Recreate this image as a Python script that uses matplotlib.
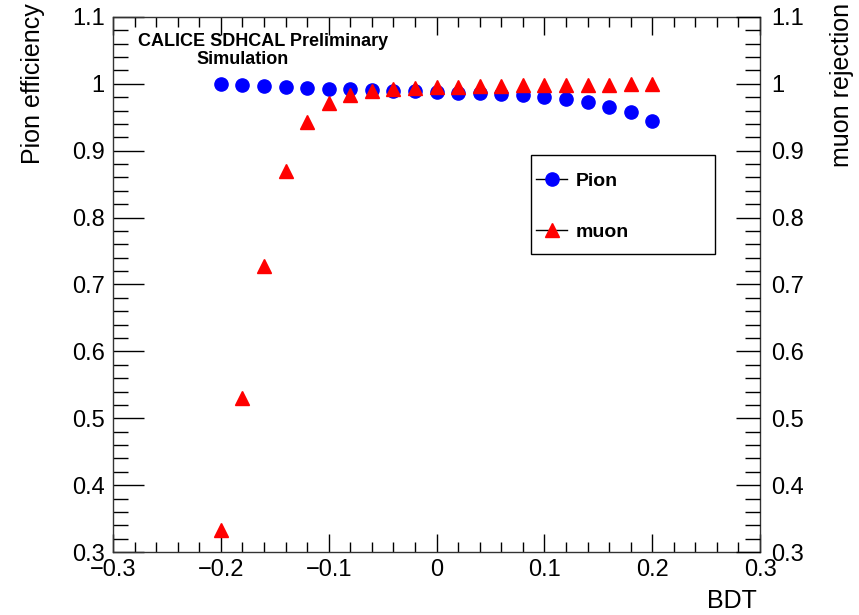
import matplotlib
matplotlib.use('Agg')
import matplotlib.pyplot as plt
import numpy as np
from matplotlib.ticker import MultipleLocator
from matplotlib.patches import Rectangle

plt.rcParams['font.family'] = ['Liberation Sans', 'DejaVu Sans']

# BDT cut values and resulting efficiencies
bdt_cut = [-0.20, -0.18, -0.16, -0.14, -0.12, -0.10, -0.08, -0.06, -0.04, -0.02, 0.00,
           0.02, 0.04, 0.06, 0.08, 0.10, 0.12, 0.14, 0.16, 0.18, 0.20]
pion_eff = [1.000, 0.999, 0.997, 0.996, 0.994, 0.993, 0.992, 0.991, 0.990, 0.989, 0.988,
            0.987, 0.986, 0.985, 0.983, 0.981, 0.978, 0.973, 0.966, 0.958, 0.945]
muon_rej = [0.333, 0.531, 0.728, 0.870, 0.943, 0.972, 0.984, 0.989, 0.992, 0.994, 0.995,
            0.996, 0.997, 0.997, 0.998, 0.998, 0.999, 0.999, 0.999, 0.9995, 1.000]

fig = plt.figure(figsize=(8.59, 6.15), dpi=100)
ax = fig.add_axes([0.1316, 0.1024, 0.7532, 0.8700])

ax.plot(bdt_cut, pion_eff, 'o', color='#0000ff', markersize=9.5, label='Pion', zorder=3)
ax.plot(bdt_cut, muon_rej, '^', color='#ff0000', markersize=10, label='muon', zorder=4)

fmt = lambda v, p: '{0:g}'.format(round(v, 2)).replace('-', '\u2212')
ax.set_xlim(-0.3, 0.3)
ax.set_ylim(0.3, 1.1)
ax.xaxis.set_major_locator(MultipleLocator(0.1))
ax.xaxis.set_minor_locator(MultipleLocator(0.02))
ax.yaxis.set_major_locator(MultipleLocator(0.1))
ax.yaxis.set_minor_locator(MultipleLocator(0.02))
ax.xaxis.set_major_formatter(plt.FuncFormatter(fmt))
ax.yaxis.set_major_formatter(plt.FuncFormatter(fmt))
ax.tick_params(axis='x', which='both', direction='in', top=True, labelsize=17, pad=5, width=1)
ax.tick_params(axis='x', which='major', length=13)
ax.tick_params(axis='x', which='minor', length=7)
ax.tick_params(axis='y', which='both', direction='in', right=False, labelsize=17, pad=6, width=1)
ax.tick_params(axis='y', which='major', length=22)
ax.tick_params(axis='y', which='minor', length=11)
for s in ax.spines.values():
    s.set_linewidth(1)
    s.set_color('#333333')

# second axis on the right for muon rejection
ax2 = ax.twinx()
ax2.set_ylim(0.3, 1.1)
ax2.yaxis.set_major_locator(MultipleLocator(0.1))
ax2.yaxis.set_minor_locator(MultipleLocator(0.02))
ax2.yaxis.set_major_formatter(plt.FuncFormatter(fmt))
ax2.tick_params(axis='y', which='both', direction='in', labelsize=17, pad=8, width=1)
ax2.tick_params(axis='y', which='major', length=17)
ax2.tick_params(axis='y', which='minor', length=11)
for s in ax2.spines.values():
    s.set_visible(False)

fig.text(0.038, 0.995, 'Pion efficiency', rotation=90, ha='center', va='top', fontsize=18)
fig.text(0.980, 0.995, 'muon rejection', rotation=90, ha='center', va='top', fontsize=18)
fig.text(0.881, 0.004, 'BDT', ha='right', va='bottom', fontsize=18)

fig.text(0.306, 0.933, 'CALICE SDHCAL Preliminary', ha='center', va='center',
         fontsize=13, fontweight='bold')
fig.text(0.282, 0.904, 'Simulation', ha='center', va='center',
         fontsize=13, fontweight='bold')

# legend box
fig.patches.append(Rectangle((531 / 859, 1 - 254 / 615), 184 / 859, 99 / 615,
                             transform=fig.transFigure, facecolor='white',
                             edgecolor='black', linewidth=1, zorder=5))
leg = fig.legend(*ax.get_legend_handles_labels(), loc='upper left',
                 bbox_to_anchor=(536 / 859, 1 - 172 / 615),
                 prop={'weight': 'bold', 'size': 14}, frameon=False,
                 borderpad=0, labelspacing=1.75, handlelength=1.6, handletextpad=0.45,
                 borderaxespad=0)
leg.set_zorder(6)
for h in leg.legend_handles:
    h.set_linestyle('-')
    h.set_linewidth(1)
    h.set_color('black')
leg.legend_handles[0].set_markerfacecolor('#0000ff')
leg.legend_handles[0].set_markeredgecolor('#0000ff')
leg.legend_handles[1].set_markerfacecolor('#ff0000')
leg.legend_handles[1].set_markeredgecolor('#ff0000')

fig.savefig('out.png', dpi=100)
